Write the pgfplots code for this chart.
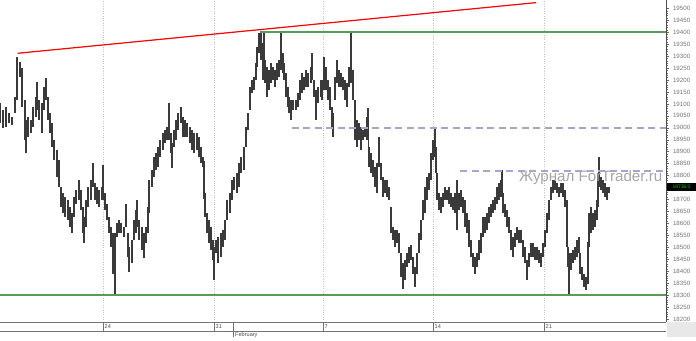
\documentclass[border=0pt]{standalone}
\usepackage{fontspec}
\setmainfont{Liberation Sans}
\usepackage{pgfplots}
\pgfplotsset{compat=1.18}
\usepackage{pgfplotstable}
\definecolor{grn}{RGB}{90,155,90}
\definecolor{lav}{RGB}{165,165,212}
\definecolor{gridc}{RGB}{195,195,195}
\definecolor{candle}{RGB}{58,58,58}
\definecolor{wm}{RGB}{165,165,165}
\pgfplotstableread{
x lo hi
0 19018 19102
3 18998 19074
6 19005 19088
9 19018 19060
12 19012 19046
15 19060 19130
17.3 19116 19298
20 19214 19277
22.3 19088 19249
24.7 18949 19116
26 18893 19032
28.3 18963 19046
30.7 18977 19032
33.3 19005 19088
36 19046 19130
37 19074 19193
39.3 19032 19116
41.7 18977 19102
44 19074 19172
45.7 19116 19207
47.7 19032 19130
50 18977 19060
52.3 18921 19018
54.3 18865 18949
56.7 18795 18907
58.7 18753 18865
60.7 18670 18753
63 18642 18725
65.3 18628 18711
67.7 18614 18697
70 18586 18670
71.7 18558 18642
74 18628 18711
76.3 18683 18739
78.7 18697 18781
80.7 18656 18739
82.7 18558 18670
84 18516 18628
86 18586 18697
88.3 18670 18753
90.7 18697 18781
92.7 18753 18851
94.7 18697 18767
96.7 18683 18753
99.3 18670 18739
101.7 18697 18753
103.3 18697 18844
105.3 18656 18725
107.3 18614 18683
109.3 18558 18628
111.3 18502 18586
113.3 18390 18558
114.7 18300 18558
116.7 18544 18600
119 18558 18614
121.3 18558 18600
124 18544 18586
126 18586 18683
127.7 18460 18558
129.3 18397 18502
131.7 18432 18530
133.7 18530 18614
136 18558 18656
137.3 18586 18697
139.3 18530 18614
141.7 18488 18586
144 18453 18558
146 18516 18586
147.7 18558 18670
149.3 18642 18781
151.7 18753 18823
154 18795 18879
156 18823 18893
158 18837 18921
160 18879 18949
162.7 18907 18977
165 18935 18991
167.3 18949 19005
169 18949 19102
170.7 18893 18977
172 18830 18935
174 18921 18991
176 18949 19032
178.3 18991 19060
180.7 19018 19088
182.7 18963 19046
185 18963 19032
187.3 18963 19018
189.7 18935 19005
192 18907 18991
194.3 18893 18977
196.7 18907 18977
199 18879 18963
201 18851 18921
203.3 18837 18879
204 18700 18860
204.7 18628 18725
206.7 18558 18642
209 18516 18614
211 18488 18586
213 18446 18530
214.3 18362 18502
216 18474 18530
218.3 18432 18544
220.7 18460 18558
222.7 18502 18572
225 18530 18614
227.3 18614 18697
229.7 18642 18725
232 18697 18781
234.3 18739 18795
236.7 18725 18809
239 18753 18851
241.3 18809 18879
243.7 18823 18921
245.7 18921 19005
247.7 18991 19060
249.7 19074 19172
251.7 19144 19200
254 19158 19214
256 19200 19270
257.3 19256 19340
259 19312 19395
261 19284 19400
262.7 19200 19353
263.7 19214 19400
265.3 19186 19284
267 19130 19256
268.7 19158 19242
270.7 19186 19270
272.7 19200 19256
274.7 19172 19242
276.7 19200 19270
279 19214 19284
281 19242 19400
282.7 19228 19312
284.3 19200 19270
286 19130 19228
287.7 19088 19172
289.3 19060 19130
291 19032 19116
293.3 19074 19116
295.7 19074 19116
297.7 19088 19144
299.7 19116 19200
301.7 19144 19228
304 19158 19214
306 19172 19242
308.3 19172 19228
310.7 19186 19256
312 19200 19312
314 19130 19200
316 19032 19158
318.3 19102 19172
320.7 19130 19200
322 19116 19200
324 19158 19298
326 19158 19256
328 19116 19200
330 19074 19172
332 19005 19088
333.3 18963 19060
335.3 19116 19214
337.3 19186 19284
339.3 19172 19242
341.3 19172 19228
343.3 19158 19214
345.3 19116 19200
347.3 19088 19186
349.3 19172 19256
350.7 19186 19400
352.7 19116 19242
354.7 18949 19116
356.7 18921 19032
358.7 18949 19018
360.7 18907 19005
362.7 18949 18991
364.7 18963 19005
366.7 18949 19046
367.7 18991 19081
368.5 18900 19010
369.3 18837 18921
371.3 18809 18893
373.3 18795 18865
375.3 18753 18837
377.3 18725 18851
379.3 18837 18963
381.3 18781 18851
383.3 18711 18795
385.3 18725 18781
387.3 18711 18781
389.3 18697 18753
391.3 18558 18670
393.3 18530 18586
395.3 18502 18572
397.3 18516 18572
399.3 18474 18558
401.3 18376 18474
403.3 18327 18432
405.3 18362 18446
407.3 18418 18474
409.3 18432 18502
410.7 18446 18509
412.7 18390 18460
414.7 18334 18418
416.7 18390 18474
418.7 18474 18558
420.7 18530 18614
422.7 18614 18697
424.7 18642 18753
426.7 18697 18795
428.7 18739 18809
430.7 18781 18893
432.7 18865 18949
434.7 18879 19005
436 18809 18921
437.3 18697 18809
439.3 18656 18725
441.3 18642 18711
443.3 18670 18725
445.3 18697 18753
447.3 18697 18739
449.3 18683 18753
451.3 18670 18725
453.3 18656 18711
455.3 18642 18725
456.7 18572 18781
458.7 18656 18725
460.7 18670 18739
462.7 18642 18711
464.7 18586 18697
466.7 18558 18642
468.7 18502 18614
470.7 18460 18530
472.7 18418 18474
474.7 18390 18460
476.7 18418 18474
478.7 18446 18530
480.7 18474 18558
482.7 18544 18628
484.7 18558 18628
486.7 18572 18642
488.7 18600 18670
490.7 18628 18683
492.7 18642 18697
494.7 18656 18711
496.7 18683 18753
498.7 18697 18767
500.7 18711 18781
501.7 18725 18823
503.3 18642 18725
505.3 18628 18683
507.3 18586 18656
509.3 18558 18628
511.3 18488 18572
513.3 18460 18544
515.3 18502 18558
517.3 18530 18586
519.3 18516 18572
521.3 18516 18572
523.3 18460 18530
525.3 18432 18502
527.3 18362 18446
529.3 18418 18474
531.3 18460 18516
533.3 18460 18516
535.3 18446 18502
537.3 18446 18502
539.3 18432 18488
541.3 18418 18474
543.3 18460 18516
545.3 18502 18572
547.3 18558 18642
549.3 18614 18697
551.3 18697 18753
553.3 18725 18781
555.3 18739 18781
557.3 18725 18767
559.3 18711 18753
561.3 18725 18767
563.3 18711 18767
565.3 18670 18739
566.7 18502 18697
568.3 18418 18502
569.3 18300 18474
571.3 18404 18474
573.3 18432 18488
575.3 18446 18502
577.3 18460 18530
578.7 18474 18544
580 18390 18474
582 18362 18418
584 18334 18390
586 18320 18376
587.7 18348 18432
588.3 18420 18520
589 18502 18642
590.7 18558 18670
592.7 18572 18642
594.7 18586 18656
596.7 18614 18697
598 18670 18809
599.3 18753 18879
601 18739 18795
602.7 18725 18781
604.7 18711 18767
606.7 18697 18753
608.7 18725 18753
}\candles
\begin{document}
\begin{tikzpicture}[x=1bp,y=1bp]
\path[use as bounding box] (0,0) rectangle (696,340);
\begin{axis}[
  at={(0,18bp)}, anchor=south west,
  scale only axis, width=666bp, height=322bp,
  xmin=0, xmax=666, ymin=18187, ymax=19535,
  axis y line*=right, axis x line*=bottom,
  x axis line style={draw=none},
  y axis line style={black!70, line width=0.6bp},
  xtick={103,214,323,433,544}, xticklabels={},
  major x tick style={draw=none},
  xmajorgrids, grid style={gridc, dotted, line width=0.6bp},
  ytick={18200,18250,...,19500},
  yticklabels={18200,18250,18300,18350,18400,18450,18500,18550,18600,18650,18700,{},18800,18850,18900,18950,19000,19050,19100,19150,19200,19250,19300,19350,19400,19450,19500},
  minor y tick num=4,
  scaled y ticks=false,
  tick align=outside,
  major tick length=3bp, minor tick length=1.5bp,
  every tick/.style={black!60, line width=0.4bp},
  yticklabel style={font=\fontsize{6.2}{7}\selectfont, text=black!55, xshift=0.5bp},
]
\addplot[draw=none, mark=none, forget plot,
  error bars/.cd, y dir=plus, y explicit, error mark=none,
  error bar style={line width=1.85bp, candle}]
  table[x=x, y=lo, y error expr=\thisrow{hi}-\thisrow{lo}] {\candles};
\addplot[red, line width=1.2bp] coordinates {(17.7,19312) (536,19524)};
\addplot[grn, line width=1.5bp] coordinates {(260,19400) (666,19400)};
\addplot[grn, line width=1.5bp] coordinates {(0,18300) (666,18300)};
\addplot[lav, line width=1.5bp, dash pattern=on 7bp off 4.5bp] coordinates {(291.7,19000) (666,19000)};
\addplot[lav, line width=1.5bp, dash pattern=on 7bp off 4.5bp] coordinates {(460,18820) (666,18820)};
\end{axis}
% watermark
\node[anchor=base west, inner sep=0, text=wm, font=\fontsize{15.2}{16}\selectfont] at (519,158.3) {Журнал ForTrader.ru};
% bottom date strip
\draw[black!55, line width=0.6bp] (0,18) -- (666,18);
\draw[black!55, line width=0.6bp] (0,8.4) -- (666,8.4);
\foreach \xx in {103,214,323,433,544} {\draw[black!55, line width=0.5bp] (\xx,8.4) -- (\xx,18);}
\draw[black!55, line width=0.5bp] (233.5,3.5) -- (233.5,18);
\foreach \xx/\lab in {103/24,214/31,323/7,433/14,544/21} {
  \node[anchor=west, inner sep=0, font=\fontsize{5.6}{6}\selectfont, text=black!70] at (\xx+1.5,13.2) {\lab};}
\node[anchor=west, inner sep=0, font=\fontsize{5.6}{6}\selectfont, text=black!70] at (235,5.3) {February};
% right side elements
\fill[black!9] (667,3) rectangle (696,18);
\fill[black] (667,149) rectangle (696,157.5);
\node[inner sep=0, font=\fontsize{5}{5}\selectfont, text=green!80!black] at (681.5,153.2) {18736.0};
\end{tikzpicture}
\end{document}
